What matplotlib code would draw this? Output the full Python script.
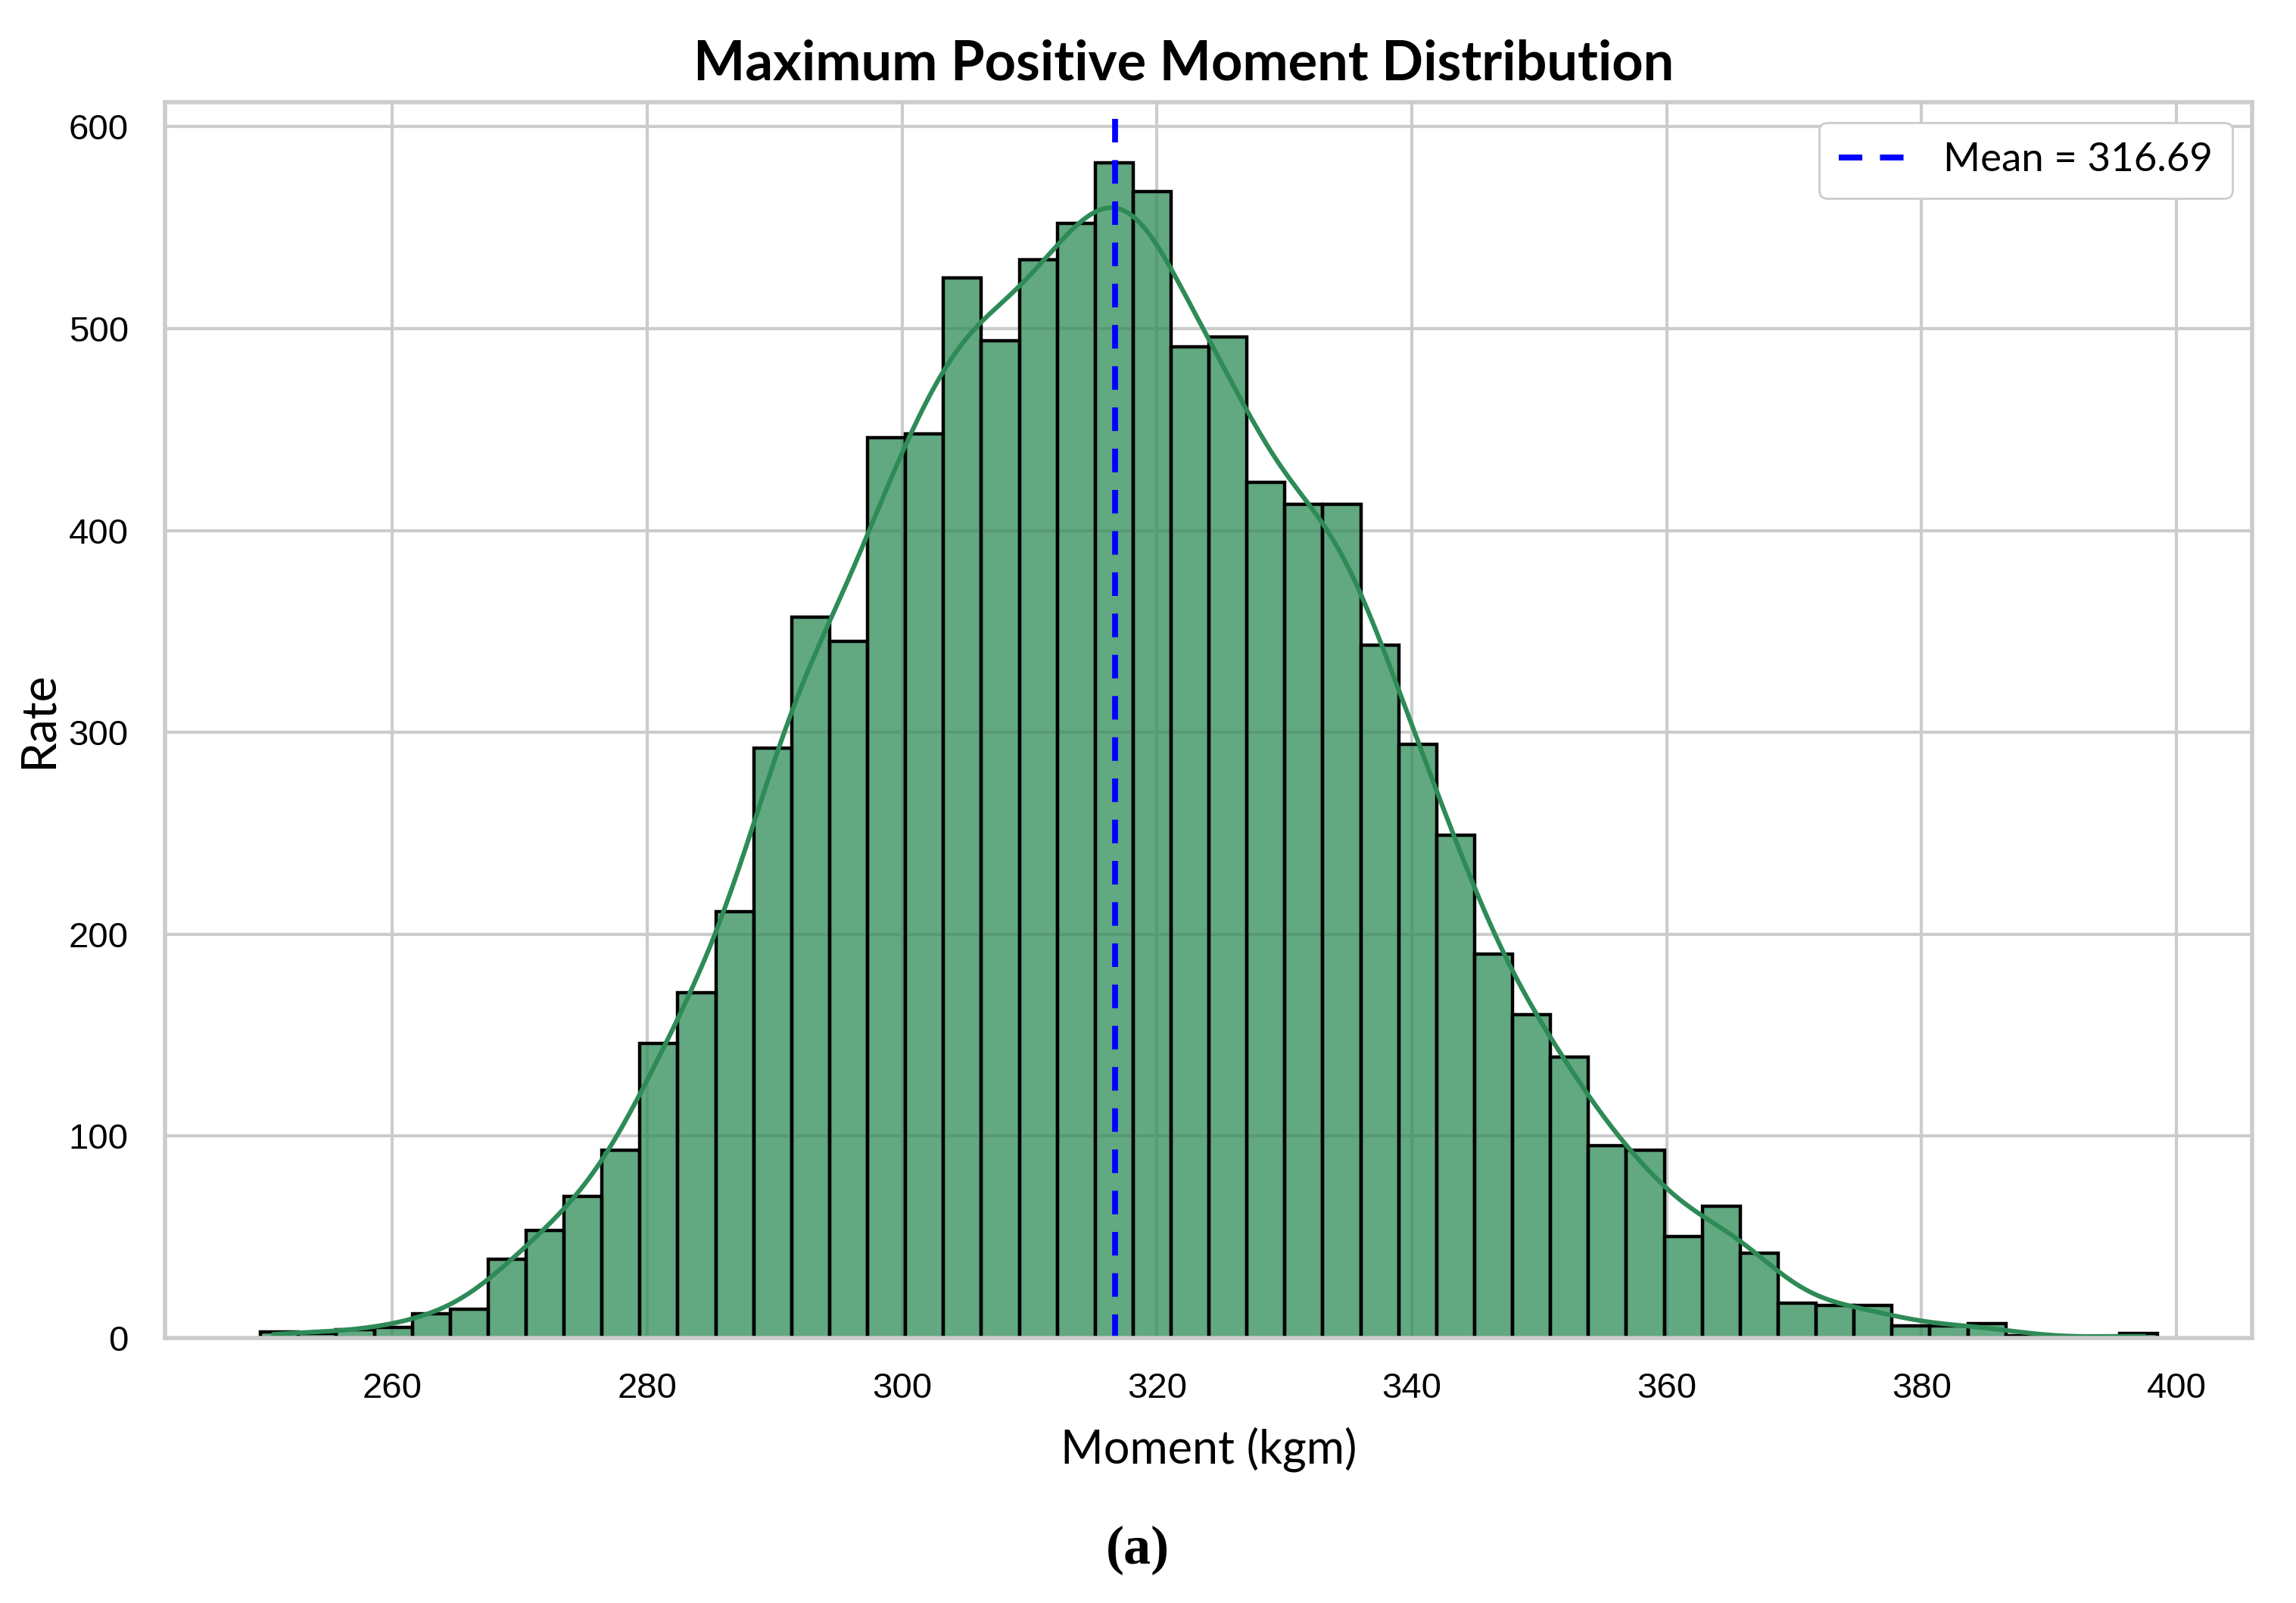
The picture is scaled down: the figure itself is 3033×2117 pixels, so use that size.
import numpy as np
import matplotlib
matplotlib.use('Agg')
import matplotlib.pyplot as plt
import matplotlib.colors as mcolors
import seaborn as sns

# histogram counts (50 bins)
counts = [3, 2, 4, 5, 12, 14, 39, 53, 70, 93,
          146, 171, 211, 292, 357, 345, 446, 448, 525, 494,
          534, 552, 582, 568, 491, 496, 424, 413, 413, 343,
          294, 249, 190, 160, 139, 95, 93, 50, 65, 42,
          17, 16, 16, 6, 6, 7, 1, 0, 0, 2]
x_min = 249.67
x_max = 398.51
mean_value = 316.69

edges = np.linspace(x_min, x_max, len(counts) + 1)
centers = (edges[:-1] + edges[1:]) / 2
weights = np.array(counts, dtype=float)

sns.set_style("whitegrid")
plt.rcParams['font.family'] = ['Lato', 'DejaVu Sans']
plt.rcParams['text.color'] = 'black'
plt.rcParams['axes.labelcolor'] = 'black'
plt.rcParams['xtick.color'] = 'black'
plt.rcParams['ytick.color'] = 'black'

fig = plt.figure(figsize=(15.165, 10.585), dpi=200)
ax = fig.add_axes([0.072, 0.1655, 0.909, 0.7705])

ax.hist(centers, bins=edges, weights=weights, facecolor=mcolors.to_rgba("seagreen", 0.75),
        edgecolor="black", linewidth=1.6)

# kde line, gaussian smoothing of the binned counts
n = weights.sum()
mu = (weights * centers).sum() / n
sd = np.sqrt((weights * (centers - mu) ** 2).sum() / n)
h = sd * n ** (-0.2)
grid = np.linspace(x_min + 1.0, x_max - 1.0, 500)
dens = (weights[None, :] * np.exp(-0.5 * ((grid[:, None] - centers[None, :]) / h) ** 2)).sum(axis=1)
dens = dens / (np.sqrt(2 * np.pi) * h) * (edges[1] - edges[0])
ax.plot(grid, dens, color="seagreen", linewidth=2.2)

ax.axvline(mean_value, color="blue", linestyle=(0, (4, 3)), linewidth=2.8,
           label="Mean = %.2f" % mean_value)

ax.set_xlim(242.2, 405.95)
ax.set_ylim(0, 612)
ax.set_xticks([260, 280, 300, 320, 340, 360, 380, 400])
ax.set_yticks([0, 100, 200, 300, 400, 500, 600])

for lab in ax.get_xticklabels() + ax.get_yticklabels():
    lab.set_family(['Liberation Sans Narrow', 'Liberation Sans'])
    lab.set_fontsize(17)
ax.tick_params(axis='x', pad=13)
ax.tick_params(axis='y', pad=14)

ax.grid(True, color="#cccccc", linewidth=1.5)
for sp in ax.spines.values():
    sp.set_color("#cccccc")
    sp.set_linewidth(2)

ax.set_xlabel("Moment (kgm)", fontsize=22, labelpad=10)
ax.set_ylabel("Rate", fontsize=23, labelpad=4)

fig.text(0.5156, 0.960, "Maximum Positive Moment Distribution", ha="center", va="center",
         fontsize=26, fontweight="bold")

ax.legend(loc="upper right", fontsize=19, handlelength=1.8, borderpad=0.5,
          framealpha=1.0, edgecolor="#cccccc")

fig.text(0.4955, 0.033, "(a)", ha="center", va="center", fontsize=26,
         family="Liberation Serif", fontweight="bold")

fig.savefig("out.png", dpi=200)
